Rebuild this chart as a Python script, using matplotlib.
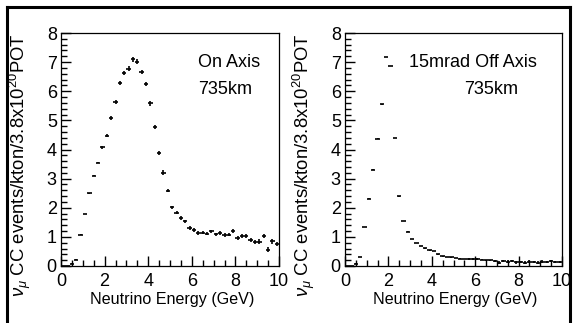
import matplotlib
matplotlib.use("Agg")
import matplotlib.pyplot as plt
from matplotlib.lines import Line2D
from matplotlib.ticker import MultipleLocator
import numpy as np

plt.rcParams['font.family'] = ['Liberation Sans', 'DejaVu Sans']
plt.rcParams['mathtext.fontset'] = 'custom'
plt.rcParams['mathtext.rm'] = 'Liberation Sans'
plt.rcParams['mathtext.it'] = 'Liberation Sans:italic'

# bin centres (0.2 GeV bins)
energy = [0.1 + 0.2 * i for i in range(50)]

# on axis spectrum
on_axis = [0.0, 0.0, 0.08, 0.22, 1.08, 1.79, 2.49, 3.10, 3.54, 4.08,
           4.48, 5.08, 5.63, 6.27, 6.64, 6.78, 7.10, 7.02, 6.65, 6.26,
           5.58, 4.76, 3.89, 3.21, 2.59, 2.01, 1.83, 1.64, 1.53, 1.30,
           1.23, 1.14, 1.15, 1.11, 1.19, 1.09, 1.14, 1.06, 1.08, 1.20,
           0.97, 1.04, 1.02, 0.88, 0.81, 0.84, 1.03, 0.56, 0.85, 0.75]
on_err = [0.0, 0.0, 0.01, 0.01, 0.01, 0.01, 0.02, 0.02, 0.02, 0.05,
          0.06, 0.06, 0.06, 0.07, 0.07, 0.07, 0.08, 0.08, 0.07, 0.07,
          0.07, 0.07, 0.07, 0.07, 0.06, 0.06, 0.06, 0.06, 0.06, 0.06,
          0.06, 0.06, 0.06, 0.06, 0.06, 0.06, 0.06, 0.06, 0.06, 0.07,
          0.07, 0.07, 0.07, 0.07, 0.07, 0.07, 0.08, 0.08, 0.08, 0.08]

# 15 mrad off axis spectrum
off_axis = [0.0, 0.01, 0.08, 0.31, 1.34, 2.31, 3.31, 4.37, 5.55, 7.17,
            6.87, 4.40, 2.39, 1.54, 1.18, 0.93, 0.79, 0.68, 0.61, 0.54,
            0.51, 0.40, 0.33, 0.31, 0.30, 0.28, 0.25, 0.24, 0.24, 0.24,
            0.23, 0.22, 0.20, 0.19, 0.18, 0.12, 0.17, 0.15, 0.17, 0.13,
            0.14, 0.12, 0.15, 0.13, 0.12, 0.15, 0.14, 0.17, 0.13, 0.14]
off_err = [0.0, 0.0, 0.02, 0.01, 0.01, 0.01, 0.01, 0.01, 0.01, 0.01,
           0.01, 0.01, 0.01, 0.01, 0.01, 0.01, 0.01, 0.01, 0.01, 0.01,
           0.01, 0.01, 0.01, 0.01, 0.01, 0.01, 0.01, 0.01, 0.03, 0.03,
           0.03, 0.02, 0.02, 0.03, 0.03, 0.04, 0.03, 0.04, 0.03, 0.05,
           0.04, 0.06, 0.04, 0.04, 0.04, 0.04, 0.04, 0.04, 0.04, 0.04]

xtitle = "Neutrino Energy (GeV)"
ytitle = r"$\nu_\mu$ CC events/kton/3.8x10$^{20}$POT"
labels = [["On Axis", "735km"], ["15mrad Off Axis", "735km"]]
label_pos = [[(6.3, 7.0), (6.3, 6.05)], [(2.95, 7.0), (5.5, 6.05)]]

W, H = 573, 323
fig = plt.figure(figsize=(W / 100, H / 100), dpi=100)

boxes = [(61, 33, 279, 266), (345, 33, 562, 266)]
series = [(on_axis, on_err), (off_axis, off_err)]

for k in range(2):
    x0, y0, x1, y1 = boxes[k]
    ax = fig.add_axes([x0 / W, (H - y1) / H, (x1 - x0) / W, (y1 - y0) / H])
    vals, errs = series[k]
    ax.errorbar(energy, vals, xerr=0.1, yerr=errs, fmt='none',
                ecolor='black', elinewidth=1.2, capsize=0)
    ax.set_xlim(0, 10)
    ax.set_ylim(0, 8)
    ax.xaxis.set_major_locator(MultipleLocator(2))
    ax.xaxis.set_minor_locator(MultipleLocator(0.5))
    ax.yaxis.set_major_locator(MultipleLocator(1))
    ax.yaxis.set_minor_locator(MultipleLocator(0.2))
    ax.tick_params(which='both', direction='in', top=False, right=False,
                   width=1.0, labelsize=13)
    ax.tick_params(which='major', length=7)
    ax.tick_params(which='minor', length=4)
    ax.tick_params(axis='x', pad=5)
    ax.tick_params(axis='y', pad=3)
    for s in ax.spines.values():
        s.set_linewidth(0.9)
    ax.set_xlabel(xtitle, fontsize=11.6)
    ax.xaxis.set_label_coords(0.51, -0.11)
    ax.text(-0.188, 1.0, ytitle, transform=ax.transAxes, rotation=90,
            ha='center', va='top', fontsize=13.3)
    for txt, (tx, ty) in zip(labels[k], label_pos[k]):
        ax.text(tx, ty, txt, fontsize=13, ha='left', va='center')

# outer frame (bottom edge falls off the picture)
fx0, fy0, fx1 = 7 / W, 1 - 7 / H, 570 / W
for xs, ys in [([fx0, fx0], [-0.1, fy0]), ([fx0, fx1], [fy0, fy0]), ([fx1, fx1], [fy0, -0.1])]:
    fig.add_artist(Line2D(xs, ys, color='black', lw=2.2, transform=fig.transFigure))

fig.savefig("out.png", dpi=100)
